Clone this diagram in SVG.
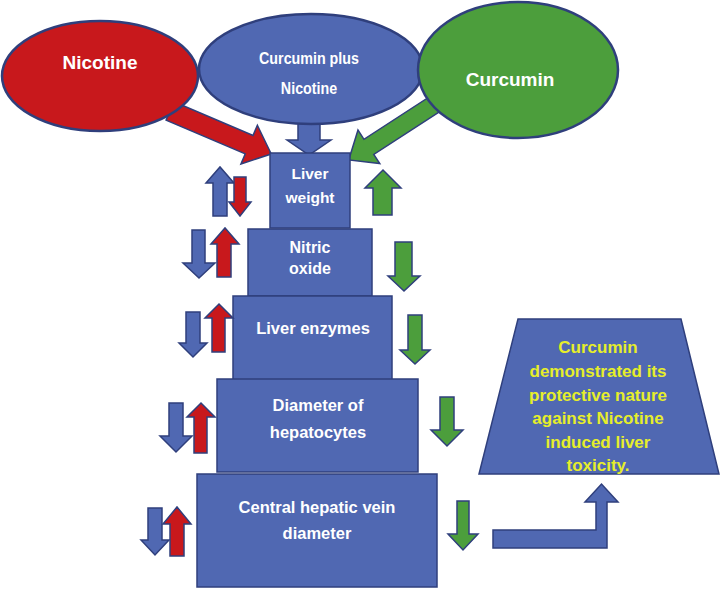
<svg xmlns="http://www.w3.org/2000/svg" width="720" height="590" viewBox="0 0 720 590">
<style>
.b{fill:#5068b2;stroke:#2f3f7c;stroke-width:1.5}
.r{fill:#c8181c;stroke:#2f3f7c;stroke-width:1.5}
.g{fill:#4c9e3c;stroke:#2f3f7c;stroke-width:1.5}
.el{stroke:#2f3f7c;stroke-width:2.5}
.t{font-family:"Liberation Sans",Arial,sans-serif;font-weight:bold;fill:#ffffff;text-anchor:middle}
.y{font-family:"Liberation Sans",Arial,sans-serif;font-weight:bold;fill:#e6ee2a;text-anchor:middle;font-size:17px}
</style>
<rect width="720" height="590" fill="#ffffff"/>
<g id="connectors">
  <polygon class="r" transform="translate(170,111) rotate(23)" points="0,-10 86,-10 86,-21 110,0 86,21 86,10 0,10"/>
  <polygon class="g" transform="translate(441,100) rotate(147)" points="0,-9 86,-9 86,-20 110,0 86,20 86,9 0,9"/>
  <polygon class="b" points="298,118 320,118 320,140 331,140 309,155 287,140 298,140"/>
  <polygon class="b" points="493,530 596,530 596,502 585,502 601.5,484 618,502 607,502 607,548 493,548"/>
</g>
<g id="nicotine">
  <ellipse class="el" cx="100" cy="76" rx="98" ry="55" fill="#c8181c"/>
  <text class="t" x="100" y="69" font-size="19">Nicotine</text>
</g>
<g id="curcumin-plus-nicotine">
  <ellipse class="el" cx="311" cy="69" rx="112" ry="55" fill="#5068b2"/>
  <g transform="translate(309,0) scale(0.84,1)">
    <text class="t" x="0" y="64" font-size="17">Curcumin plus</text>
    <text class="t" x="0" y="94" font-size="17">Nicotine</text>
  </g>
</g>
<g id="curcumin">
  <ellipse class="el" cx="518" cy="70" rx="100" ry="68" fill="#4c9e3c"/>
  <text class="t" x="510" y="86" font-size="19">Curcumin</text>
</g>
<g id="liver-weight">
  <rect class="b" x="270" y="153" width="80" height="75"/>
  <text class="t" x="310" y="179" font-size="15.5">Liver</text>
  <text class="t" x="310" y="203" font-size="15.5">weight</text>
</g>
<g id="nitric-oxide">
  <rect class="b" x="248" y="229" width="124" height="67"/>
  <text class="t" x="310" y="253" font-size="16">Nitric</text>
  <text class="t" x="310" y="274" font-size="16">oxide</text>
</g>
<g id="liver-enzymes">
  <rect class="b" x="233" y="296" width="159" height="84"/>
  <text class="t" x="313" y="334" font-size="16.5">Liver enzymes</text>
</g>
<g id="diameter-hepatocytes">
  <rect class="b" x="217" y="379" width="201" height="93"/>
  <text class="t" x="318" y="411" font-size="16.5">Diameter of</text>
  <text class="t" x="318" y="438" font-size="16.5">hepatocytes</text>
</g>
<g id="central-vein">
  <rect class="b" x="197" y="474" width="240" height="113"/>
  <text class="t" x="317" y="513" font-size="16.5">Central hepatic vein</text>
  <text class="t" x="317" y="539" font-size="16.5">diameter</text>
</g>
<g id="conclusion">
  <polygon class="b" points="518,319 681,319 719,474 479,474"/>
  <text class="y" x="598" y="353">Curcumin</text>
  <text class="y" x="598" y="377">demonstrated its</text>
  <text class="y" x="598" y="401">protective nature</text>
  <text class="y" x="598" y="424">against Nicotine</text>
  <text class="y" x="598" y="448">induced liver</text>
  <text class="y" x="598" y="471">toxicity.</text>
</g>
<g id="indicators">
  <polygon class="b" points="213,216 213,183 206,183 220,167 234,183 227,183 227,216"/>
  <polygon class="r" points="234,177 246,177 246,202 251,202 240,216 229,202 234,202"/>
  <polygon class="g" points="373,215 373,188 365,188 383,170 401,188 392,188 392,215"/>
  <polygon class="b" points="192,230 205,230 205,263 215,263 199,278 183,263 192,263"/>
  <polygon class="r" points="217,277 217,244 211,244 225,228 239,244 231,244 231,277"/>
  <polygon class="g" points="395,242 412,242 412,276 420,276 404,291 388,276 395,276"/>
  <polygon class="b" points="186,312 200,312 200,343 207,343 193,357 179,343 186,343"/>
  <polygon class="r" points="212,352 212,318 205,318 219,304 233,318 225,318 225,352"/>
  <polygon class="g" points="408,315 422,315 422,350 430,350 415,364 400,350 408,350"/>
  <polygon class="b" points="169,403 183,403 183,436 192,436 176,452 160,436 169,436"/>
  <polygon class="r" points="194,453 194,417 187,417 201,403 215,417 207,417 207,453"/>
  <polygon class="g" points="440,397 454,397 454,430 463,430 447,446 431,430 440,430"/>
  <polygon class="b" points="148,508 162,508 162,540 169,540 155,555 141,540 148,540"/>
  <polygon class="r" points="170,556 170,524 163,524 177,507 191,524 184,524 184,556"/>
  <polygon class="g" points="457,501 469,501 469,534 478,534 463,550 448,534 457,534"/>
</g>
</svg>
